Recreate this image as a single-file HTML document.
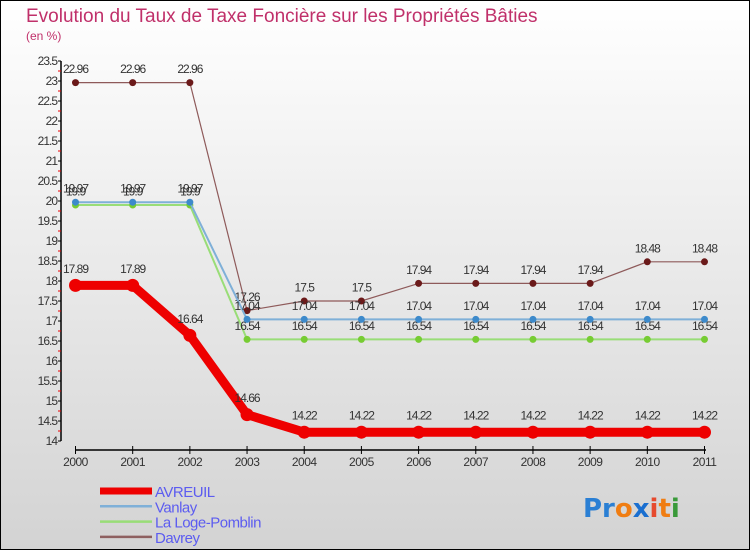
<!DOCTYPE html>
<html><head><meta charset="utf-8"><style>
html,body{margin:0;padding:0;}
body{width:750px;height:550px;overflow:hidden;font-family:"Liberation Sans",sans-serif;}
</style></head><body>
<svg id="chart" width="750" height="550" xmlns="http://www.w3.org/2000/svg">
<defs><linearGradient id="bg" x1="0" y1="0" x2="0" y2="1"><stop offset="0" stop-color="#ffffff"/><stop offset="1" stop-color="#d3d3d3"/></linearGradient></defs>
<rect x="0.5" y="0.5" width="749" height="549" fill="url(#bg)" stroke="#000" stroke-width="1"/>
<text x="26" y="22" font-size="19" fill="#c0306a">Evolution du Taux de Taxe Foncière sur les Propriétés Bâties</text>
<text x="26" y="40" font-size="12" fill="#c0306a">(en %)</text>
<g id="axes"></g><g id="series"></g><g id="legend"></g>
<text x="583" y="517" font-size="26" font-family="DejaVu Sans, sans-serif" font-weight="bold"><tspan fill="#2a7fd4">Pr</tspan><tspan fill="#f07d12">o</tspan><tspan fill="#1a6fd0">x</tspan><tspan fill="#e64a2e">i</tspan><tspan fill="#f07d12">t</tspan><tspan fill="#3a9a3a">i</tspan></text>
</svg>
<script>
const years=["2000","2001","2002","2003","2004","2005","2006","2007","2008","2009","2010","2011"];
const avreuil=[17.89,17.89,16.64,14.66,14.22,14.22,14.22,14.22,14.22,14.22,14.22,14.22];
const vanlay=[19.97,19.97,19.97,17.04,17.04,17.04,17.04,17.04,17.04,17.04,17.04,17.04];
const laloge=[19.9,19.9,19.9,16.54,16.54,16.54,16.54,16.54,16.54,16.54,16.54,16.54];
const davrey=[22.96,22.96,22.96,17.26,17.5,17.5,17.94,17.94,17.94,17.94,18.48,18.48];
const yTicks=[14,14.5,15,15.5,16,16.5,17,17.5,18,18.5,19,19.5,20,20.5,21,21.5,22,22.5,23,23.5];
const seriesNames=["AVREUIL","Vanlay","La Loge-Pomblin","Davrey"];

const NS="http://www.w3.org/2000/svg";
const xS=i=>75.5+i*(629/11);
const yS=v=>441-(v-14)*40;
function mk(tag,attrs,parent){const e=document.createElementNS(NS,tag);for(const k in attrs)e.setAttribute(k,attrs[k]);parent.appendChild(e);return e;}
const axes=document.getElementById('axes');
let a=mk('line',{x1:61,y1:yS(23.5),x2:61,y2:yS(14),stroke:'#000','stroke-width':1.5},axes);


yTicks.forEach((v,k)=>{
 let t=mk('line',{x1:58,x2:61,y1:yS(v),y2:yS(v),stroke:'#000'},axes);
 
 
 if(k<yTicks.length-1){
  let m=mk('line',{x1:58,x2:61,y1:yS(v+0.25),y2:yS(v+0.25),stroke:'#e00'},axes);
  
  
 }
 let l=mk('text',{x:57,y:yS(v)+4,'text-anchor':'end','font-size':12,fill:'#333','letter-spacing':'-1'},axes);
 l.textContent=String(v);
 
 
});
a=mk('line',{x1:75,y1:450,x2:706,y2:450,stroke:'#000','stroke-width':1.5},axes);


years.forEach((y,i)=>{
 let t=mk('line',{x1:xS(i),x2:xS(i),y1:446,y2:454,stroke:'#000'},axes);
 
 
 let l=mk('text',{x:xS(i),y:466,'text-anchor':'middle','font-size':12,fill:'#333','letter-spacing':'-0.5'},axes);
 l.textContent=y;
 
 
});
const sg=document.getElementById('series');
const defs=[
 {d:davrey,c:'#8e5a5a',p:'#6b1a1a',w:1.2,r:3.5,n:'davrey'},
 {d:laloge,c:'#99dd77',p:'#77cc33',w:2,r:3.5,n:'la-loge-pomblin'},
 {d:vanlay,c:'#7fb0d8',p:'#3d8acb',w:2,r:3.5,n:'vanlay'},
 {d:avreuil,c:'#ee0000',p:'#ee0000',w:9,r:6.5,n:'avreuil'}
];
defs.forEach(s=>{
 const g=mk('g',{},sg);
 
 
 let pl=mk('polyline',{points:s.d.map((v,i)=>xS(i)+','+yS(v)).join(' '),fill:'none',stroke:s.c,'stroke-width':s.w,'stroke-linejoin':'round'},g);
 
 
 s.d.forEach((v,i)=>{
  let c=mk('circle',{cx:xS(i),cy:yS(v),r:s.r,fill:s.p},g);
  
  
  let t=mk('text',{x:xS(i),y:yS(v)-(s.r+6),'text-anchor':'middle','font-size':12,fill:'#333','letter-spacing':'-1'},g);
  t.textContent=String(v);
  
  
 });
});
const lg=document.getElementById('legend');
const lc=['#ee0000','#7fb0d8','#99dd77','#8e6060'];const lw=[7,2.5,2.5,2.5];
seriesNames.forEach((n,i)=>{
 const y=491+i*15.3;
 let l=mk('line',{x1:100,x2:152,y1:y,y2:y,stroke:lc[i],'stroke-width':lw[i]},lg);
 
 
 let t=mk('text',{x:155,y:y+6,'font-size':15,fill:'#5c5cf0','letter-spacing':'-0.5'},lg);
 t.textContent=n;
 
 
});
</script>
</body></html>
